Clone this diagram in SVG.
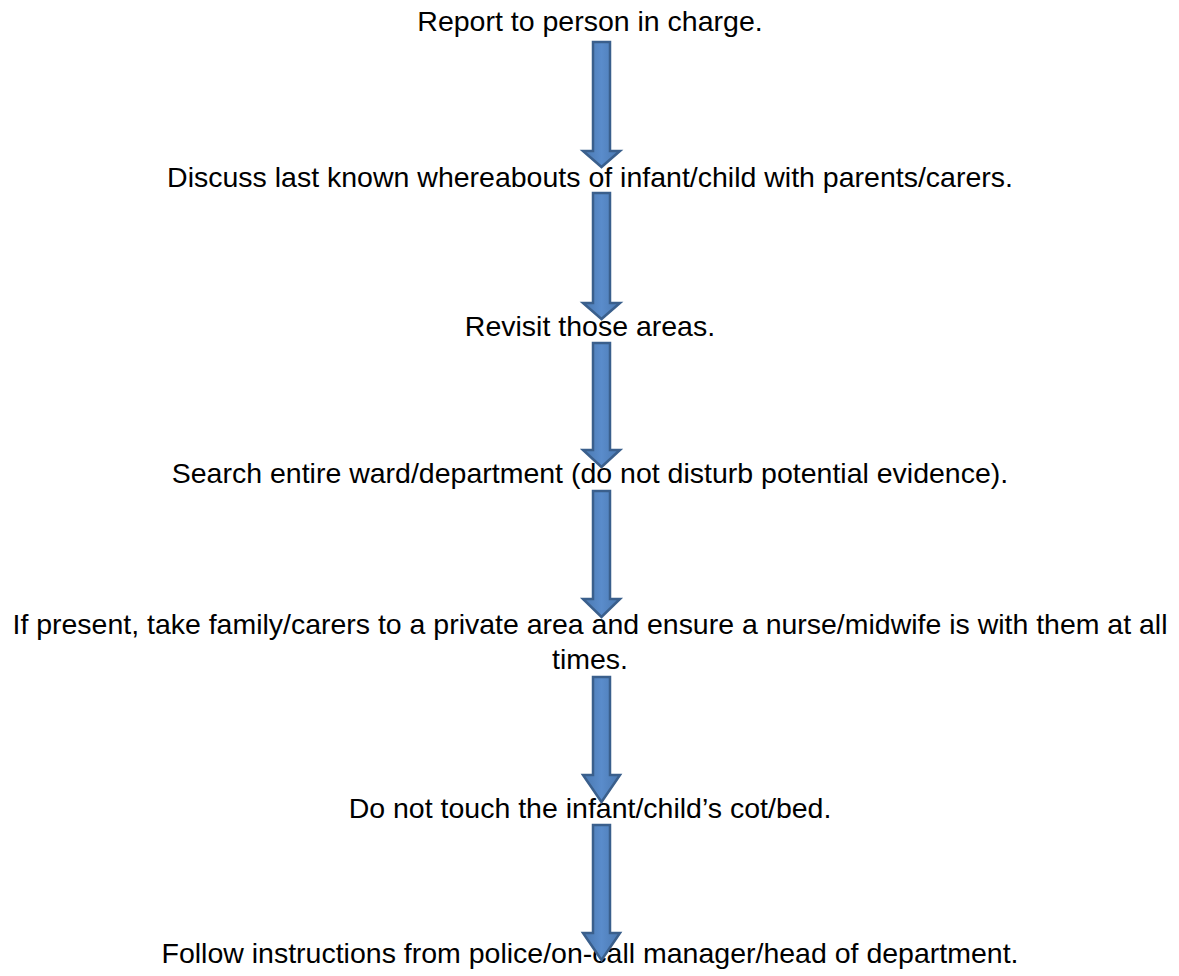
<svg xmlns="http://www.w3.org/2000/svg" width="1179" height="976" viewBox="0 0 1179 976">
<style>
text{font-family:"Liberation Sans",Arial,sans-serif;font-size:28.5px;fill:#000;text-anchor:middle}
.arrow{fill:url(#g);stroke:#3A5F8C;stroke-width:2.5;stroke-linejoin:miter}
</style>
<defs>
<linearGradient id="g" x1="0" y1="0" x2="1" y2="0">
<stop offset="0" stop-color="#4A78B0"/>
<stop offset="0.5" stop-color="#5A8CCB"/>
<stop offset="1" stop-color="#4A78B0"/>
</linearGradient>
</defs>
<rect width="1179" height="976" fill="#fff"/>
<g id="n1"><text x="590" y="31">Report to person in charge.</text></g>
<g id="n2"><text x="590" y="187">Discuss last known whereabouts of infant/child with parents/carers.</text></g>
<g id="n3"><text x="590" y="336">Revisit those areas.</text></g>
<g id="n4"><text x="590" y="483">Search entire ward/department (do not disturb potential evidence).</text></g>
<g id="n5"><text x="590" y="634" textLength="1155" lengthAdjust="spacingAndGlyphs">If present, take family/carers to a private area and ensure a nurse/midwife is with them at all</text><text x="590" y="669">times.</text></g>
<g id="n6"><text x="590" y="818">Do not touch the infant/child’s cot/bed.</text></g>
<g id="n7"><text x="590" y="963">Follow instructions from police/on-call manager/head of department.</text></g>
<g id="connectors">
<path class="arrow" d="M593,42H610V151H620L601.5,167L583,151H593Z"/>
<path class="arrow" d="M593,193H610V303H620L601.5,319L583,303H593Z"/>
<path class="arrow" d="M593,343H610V450H620L601.5,467L583,450H593Z"/>
<path class="arrow" d="M593,491H610V599H620L601.5,617L583,599H593Z"/>
<path class="arrow" d="M593,677H610V775H620L601.5,802L583,775H593Z"/>
<path class="arrow" d="M593,825H610V933H620L601.5,960L583,933H593Z"/>
</g>
</svg>
